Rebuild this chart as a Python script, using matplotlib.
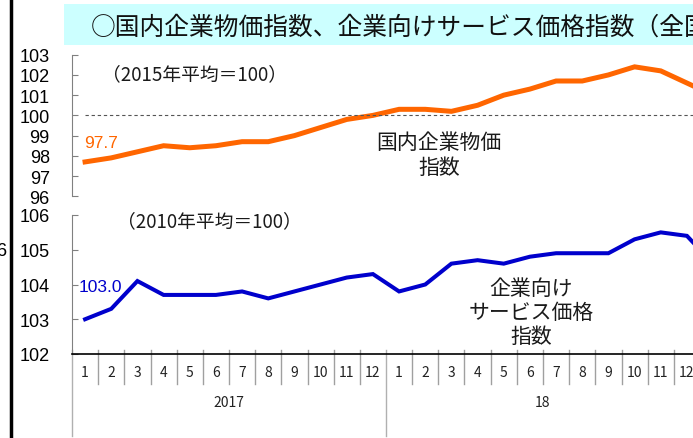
import matplotlib.pyplot as plt
import numpy as np
from matplotlib.patches import Rectangle
from matplotlib.lines import Line2D

plt.rcParams['font.family'] = ['Noto Sans CJK JP', 'DejaVu Sans']

# 2017-2018 monthly, plus Jan 2019 running off the right edge
months = [str(m) for m in range(1, 13)] * 2
years = ['2017', '18']
cgpi = [97.7, 97.9, 98.2, 98.5, 98.4, 98.5, 98.7, 98.7, 99.0, 99.4, 99.8, 100.0,
        100.3, 100.3, 100.2, 100.5, 101.0, 101.3, 101.7, 101.7, 102.0, 102.4, 102.2, 101.6,
        101.0]
cspi = [103.0, 103.3, 104.1, 103.7, 103.7, 103.7, 103.8, 103.6, 103.8, 104.0, 104.2, 104.3,
        103.8, 104.0, 104.6, 104.7, 104.6, 104.8, 104.9, 104.9, 104.9, 105.3, 105.5, 105.4,
        104.6]
title = '○国内企業物価指数、企業向けサービス価格指数（全国）'

W, H = 693, 439
fig = plt.figure(figsize=(W / 100, H / 100), dpi=100)

def px_axes(left, top, right, bottom):
    return fig.add_axes([left / W, 1 - bottom / H, (right - left) / W, (bottom - top) / H])

ax1 = px_axes(72, 55.7, 700, 197.3)
ax2 = px_axes(72, 216, 700, 355)

x = np.arange(len(cgpi)) + 0.5
num_font = 'Liberation Sans'
gray = '#808080'

for ax in (ax1, ax2):
    ax.set_xlim(0, 24)
    ax.patch.set_visible(False)
    for s in ('top', 'right'):
        ax.spines[s].set_visible(False)
    ax.spines['left'].set_color(gray)
    ax.tick_params(axis='y', direction='in', length=4, color=gray, pad=16,
                   labelsize=13)

# upper panel
ax1.set_ylim(96, 103)
ax1.set_yticks(range(96, 104))
ax1.set_yticklabels([str(v) for v in range(96, 104)], family=num_font, fontsize=13)
ax1.spines['bottom'].set_visible(False)
ax1.set_xticks([])
ax1.plot(x, cgpi, color='#ff6600', lw=3.6, solid_joinstyle='miter')
ax1.hlines(100, x[0], 24.5, colors='#555555', linestyles=(0, (3, 2.5)), lw=0.8)
ax1.annotate(f'{cgpi[0]:.1f}', xy=(x[0], cgpi[0]), xytext=(-1, 19),
             textcoords='offset pixels', ha='left', va='center', color='#ff6600',
             fontsize=12.5, family=num_font)
ax1.text(1.15, 102.04, '（2015年平均＝100）', ha='left', va='center', fontsize=13.5,
         color='#1a1a1a')
ax1.text(14.02, 98.08, '国内企業物価\n指数', ha='center', va='center', fontsize=15,
         linespacing=1.2, color='#1a1a1a')

# lower panel
ax2.set_ylim(102, 106)
ax2.set_yticks(range(102, 107))
ax2.set_yticklabels([str(v) for v in range(102, 107)], family=num_font, fontsize=13)
ax2.spines['bottom'].set_color('black')
ax2.spines['bottom'].set_linewidth(1.2)
ax2.plot(x, cspi, color='#0000cc', lw=2.9, solid_joinstyle='miter')
ax2.annotate(f'{cspi[0]:.1f}', xy=(x[0], cspi[0]), xytext=(-6, 33),
             textcoords='offset pixels', ha='left', va='center', color='#0000cc',
             fontsize=12.5, family=num_font)
ax2.text(1.72, 105.83, '（2010年平均＝100）', ha='left', va='center', fontsize=13.5,
         color='#1a1a1a')
ax2.text(17.54, 103.21, '企業向け\nサービス価格\n指数', ha='center', va='center',
         fontsize=15, linespacing=1.1, color='#1a1a1a')

ax2.set_xticks(x[:24])
ax2.set_xticklabels(months, fontsize=10, color='#222222')
ax2.tick_params(axis='x', length=0, pad=8)

tr = ax2.get_xaxis_transform()
for k in range(25):
    if k % 12 == 0:
        ax2.plot([k, k], [0.031, -0.59], transform=tr, color='#b0b0b0', lw=1,
                 clip_on=False)
    else:
        ax2.plot([k, k], [0.031, -0.216], transform=tr, color='#a0a0a0', lw=1,
                 clip_on=False)
for i, yr in enumerate(years):
    ax2.text(12 * i + 6, -0.345, yr, transform=tr, ha='center', va='center',
             fontsize=10, color='#222222')

# title box
fig.patches.append(Rectangle((64 / W, 1 - 46 / H), 1, 41 / H, transform=fig.transFigure,
                             facecolor='#ccffff', edgecolor='none'))
fig.text(91 / W, 1 - 28 / H, title, ha='left', va='center', fontsize=17.8, color='#111111')

# frame line and neighbour label on the far left
fig.add_artist(Line2D([11 / W, 11 / W], [0, 1], lw=2.5, color='black'))
fig.text(6 / W, 1 - 252 / H, '6', ha='right', va='center', fontsize=13, family=num_font)

fig.savefig('out.png', dpi=100)
